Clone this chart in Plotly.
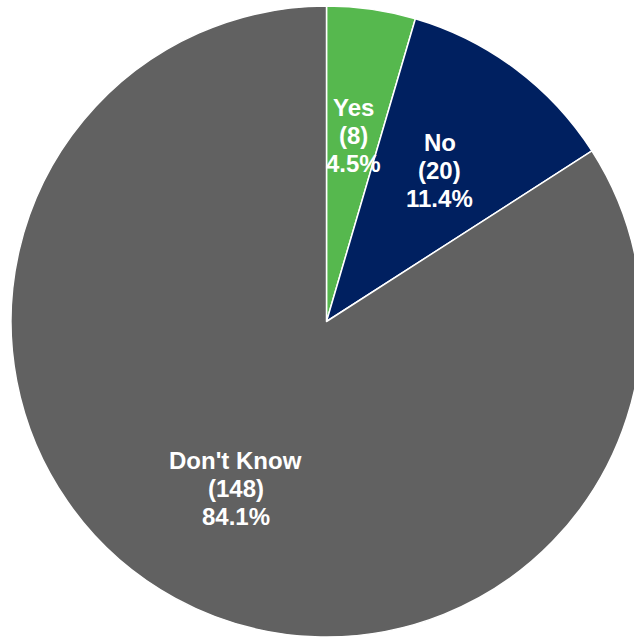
import math
import plotly.graph_objects as go

# Survey responses
categories = ["Yes", "No", "Don't Know"]
counts = [8, 20, 148]
colors = ["#56B84E", "#002060", "#616161"]

total = sum(counts)
percents = [c / total * 100 for c in counts]

fig = go.Figure(
    go.Pie(
        labels=categories,
        values=counts,
        sort=False,
        direction="clockwise",
        rotation=0,
        marker=dict(colors=colors, line=dict(color="white", width=1.5)),
        textinfo="none",
        hoverinfo="label+value+percent",
        showlegend=False,
        domain=dict(x=[0, 1], y=[0, 1]),
    )
)

# Place each label at 60% of the radius along its slice's mid-angle
label_radius = 0.6
line_gap = 28
annotations = []
start = 0.0
for name, cnt, pct in zip(categories, counts, percents):
    mid = (start + cnt / 2) / total * 2 * math.pi
    start += cnt
    ax = 0.5 + 0.5 * label_radius * math.sin(mid)
    ay = 0.5 + 0.5 * label_radius * math.cos(mid)
    lines = [name, f"({cnt})", f"{pct:.1f}%"]
    for i, txt in enumerate(lines):
        annotations.append(
            dict(
                x=ax, y=ay, xref="paper", yref="paper",
                text=f"<b>{txt}</b>", showarrow=False,
                xanchor="center", yanchor="middle",
                yshift=(1 - i) * line_gap - 1,
                font=dict(family="Liberation Sans, Arial, sans-serif", size=24, color="white"),
            )
        )

fig.update_layout(
    width=660,
    height=640,
    margin=dict(l=11, r=18, t=6, b=3, pad=0),
    paper_bgcolor="white",
    plot_bgcolor="white",
    annotations=annotations,
)

fig.write_html(
    "out.html",
    post_script="document.documentElement.style.overflow='hidden';document.body.style.overflow='hidden';document.body.style.margin='0';",
)
